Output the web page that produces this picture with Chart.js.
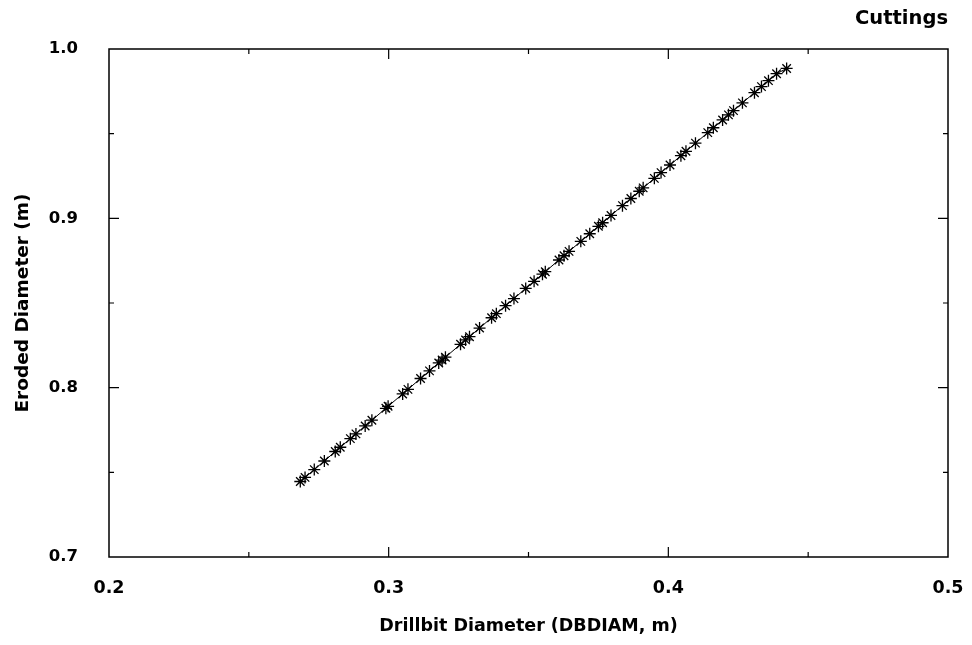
<!DOCTYPE html>
<html>
<head>
<meta charset="utf-8">
<script src="https://cdn.jsdelivr.net/npm/chart.js@4"></script>
<style>
  html, body { margin: 0; padding: 0; background: #fff; }
  #wrap { width: 972px; height: 645px; }
</style>
</head>
<body>
<div id="wrap"><canvas id="myChart" width="972" height="645"></canvas></div>
<script>
// Datos
const drillbitDiam = [
  0.2684, 0.2701, 0.2734, 0.2770, 0.2809, 0.2827, 0.2863, 0.2883, 0.2916, 0.2940,
  0.2990, 0.2998, 0.3050, 0.3069, 0.3114, 0.3146, 0.3179, 0.3191, 0.3203, 0.3257,
  0.3275, 0.3289, 0.3325, 0.3368, 0.3385, 0.3418, 0.3448, 0.3490, 0.3520, 0.3550,
  0.3560, 0.3609, 0.3627, 0.3645, 0.3687, 0.3719, 0.3750, 0.3765, 0.3795, 0.3836,
  0.3866, 0.3896, 0.3910, 0.3950, 0.3974, 0.4006, 0.4045, 0.4063, 0.4097, 0.4141,
  0.4161, 0.4194, 0.4215, 0.4233, 0.4265, 0.4308, 0.4333, 0.4358, 0.4387, 0.4423
];
const erodedDiam = [
  0.7446, 0.7470, 0.7516, 0.7567, 0.7623, 0.7648, 0.7699, 0.7727, 0.7774, 0.7808,
  0.7878, 0.7890, 0.7963, 0.7990, 0.8054, 0.8099, 0.8146, 0.8163, 0.8180, 0.8256,
  0.8282, 0.8301, 0.8352, 0.8413, 0.8437, 0.8484, 0.8526, 0.8586, 0.8628, 0.8670,
  0.8685, 0.8754, 0.8779, 0.8805, 0.8864, 0.8909, 0.8953, 0.8974, 0.9017, 0.9075,
  0.9117, 0.9160, 0.9180, 0.9236, 0.9270, 0.9315, 0.9370, 0.9396, 0.9444, 0.9506,
  0.9535, 0.9581, 0.9611, 0.9636, 0.9682, 0.9742, 0.9778, 0.9813, 0.9854, 0.9885
];
const xTicks = [0.2, 0.3, 0.4, 0.5];
const xMinor = [0.25, 0.35, 0.45];
const yTicks = [0.7, 0.8, 0.9, 1.0];
const yMinor = [0.75, 0.85, 0.95];

const WIDE = "'DejaVu Sans', Verdana, sans-serif";

// Marco y marcas hacia dentro en los cuatro lados
const frameTicks = {
  id: 'frameTicks',
  afterDatasetsDraw(chart) {
    const { ctx, chartArea: a, scales: { x, y } } = chart;
    ctx.save();
    ctx.strokeStyle = '#000';
    ctx.lineWidth = 1.5;
    ctx.strokeRect(a.left, a.top, a.right - a.left, a.bottom - a.top);
    ctx.lineWidth = 1.2;
    const tickX = (vals, len) => {
      vals.forEach(v => {
        const px = x.getPixelForValue(v);
        if (px > a.left + 1 && px < a.right - 1) {
          ctx.beginPath();
          ctx.moveTo(px, a.bottom); ctx.lineTo(px, a.bottom - len);
          ctx.moveTo(px, a.top); ctx.lineTo(px, a.top + len);
          ctx.stroke();
        }
      });
    };
    const tickY = (vals, len) => {
      vals.forEach(v => {
        const py = y.getPixelForValue(v);
        if (py > a.top + 1 && py < a.bottom - 1) {
          ctx.beginPath();
          ctx.moveTo(a.left, py); ctx.lineTo(a.left + len, py);
          ctx.moveTo(a.right, py); ctx.lineTo(a.right - len, py);
          ctx.stroke();
        }
      });
    };
    tickX(xTicks, 10); tickX(xMinor, 5);
    tickY(yTicks, 10); tickY(yMinor, 5);
    ctx.restore();
  }
};

const ctx = document.getElementById('myChart').getContext('2d');
const myChart = new Chart(ctx, {
  type: 'scatter',
  data: {
    datasets: [{
      label: 'Cuttings',
      data: drillbitDiam.map((d, i) => ({ x: d, y: erodedDiam[i] })),
      showLine: true,
      borderColor: '#000',
      borderWidth: 1,
      pointStyle: 'star',
      pointRadius: 6,
      pointBorderWidth: 1.3,
      pointBorderColor: '#000',
      pointBackgroundColor: '#000'
    }]
  },
  options: {
    responsive: false,
    animation: false,
    layout: { padding: { left: 0, right: 24, top: 0, bottom: 0 } },
    plugins: {
      legend: { display: false },
      tooltip: { enabled: false },
      title: {
        display: true,
        text: 'Cuttings',
        align: 'end',
        color: '#000',
        font: { family: WIDE, size: 19.5, weight: 'bold' },
        padding: { top: 7, bottom: 18.6 }
      }
    },
    scales: {
      x: {
        type: 'linear',
        min: 0.2, max: 0.5,
        afterFit(s) { s.height = 88; s.paddingLeft = 0; s.paddingRight = 0; },
        afterBuildTicks(s) { s.ticks = xTicks.map(v => ({ value: v })); },
        grid: { display: false, drawTicks: false },
        border: { display: false },
        ticks: {
          padding: 21,
          color: '#000',
          font: { family: WIDE, size: 17.5, weight: 'bold' },
          callback: v => v.toFixed(1)
        },
        title: {
          display: true,
          text: 'Drillbit Diameter (DBDIAM, m)',
          color: '#000',
          font: { family: WIDE, size: 17.5, weight: 'bold' },
          padding: { top: 0, bottom: 8 }
        }
      },
      y: {
        type: 'linear',
        min: 0.7, max: 1.0,
        afterFit(s) { s.width = 109; s.paddingTop = 0; s.paddingBottom = 0; },
        afterBuildTicks(s) { s.ticks = yTicks.map(v => ({ value: v })); },
        grid: { display: false, drawTicks: false },
        border: { display: false },
        ticks: {
          padding: 31,
          color: '#000',
          font: { family: WIDE, size: 16.5, weight: 'bold' },
          callback: v => v.toFixed(1)
        },
        title: {
          display: true,
          text: 'Eroded Diameter (m)',
          color: '#000',
          font: { family: WIDE, size: 18.5, weight: 'bold' },
          padding: { top: 12, bottom: 0 }
        }
      }
    }
  },
  plugins: [frameTicks]
});
</script>
</body>
</html>
